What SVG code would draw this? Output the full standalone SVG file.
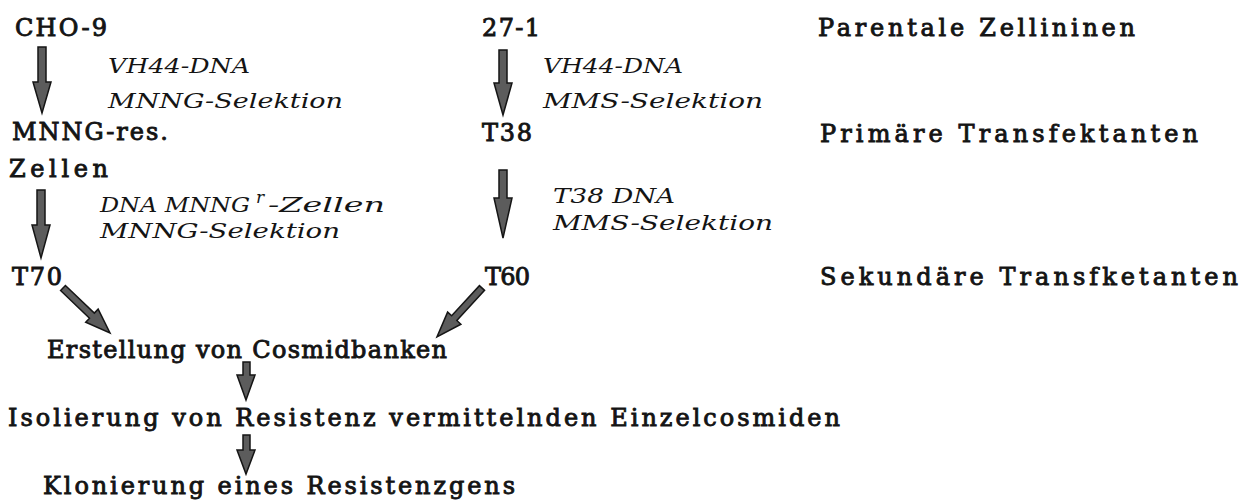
<svg xmlns="http://www.w3.org/2000/svg" width="1245" height="504" viewBox="0 0 1245 504">
<style>
.b{font-family:"DejaVu Serif","Liberation Serif",serif;font-size:24px;fill:#141414;stroke:#141414;stroke-width:0.9}
.i{font-family:"DejaVu Serif","Liberation Serif",serif;font-style:italic;font-size:20px;fill:#141414}
.arr{fill:#5c5c5c;stroke:#151515;stroke-width:1.5;stroke-linejoin:miter}
</style>
<rect width="1245" height="504" fill="#fff"/>
<g id="cho9"><text class="b" x="15" y="36" textLength="92" lengthAdjust="spacing">CHO-9</text></g>
<g id="n27-1"><text class="b" x="482" y="36" textLength="58" lengthAdjust="spacing">27-1</text></g>
<g id="parentale"><text class="b" x="818" y="36" textLength="317" lengthAdjust="spacing">Parentale Zellininen</text></g>
<g id="mnngres"><text class="b" x="12" y="140" textLength="156" lengthAdjust="spacing">MNNG-res.</text><text class="b" x="9" y="177" textLength="99" lengthAdjust="spacing">Zellen</text></g>
<g id="t38"><text class="b" x="482" y="141" textLength="50" lengthAdjust="spacing">T38</text></g>
<g id="primaere"><text class="b" x="820" y="142" textLength="378" lengthAdjust="spacing">Primäre Transfektanten</text></g>
<g id="t70"><text class="b" x="12" y="285" textLength="50" lengthAdjust="spacing">T70</text></g>
<g id="t60"><text class="b" x="485" y="285" textLength="45" lengthAdjust="spacing">T60</text></g>
<g id="sekundaere"><text class="b" x="820" y="285" textLength="418" lengthAdjust="spacing">Sekundäre Transfketanten</text></g>
<g id="erstellung"><text class="b" x="47" y="358" textLength="400" lengthAdjust="spacing">Erstellung von Cosmidbanken</text></g>
<g id="isolierung"><text class="b" x="8" y="426" textLength="832" lengthAdjust="spacing">Isolierung von Resistenz vermittelnden Einzelcosmiden</text></g>
<g id="klonierung"><text class="b" x="43" y="494" textLength="472" lengthAdjust="spacing">Klonierung eines Resistenzgens</text></g>
<g id="labels">
<text class="i" x="108" y="73" textLength="142" lengthAdjust="spacingAndGlyphs">VH44-DNA</text>
<text class="i" x="108" y="108" textLength="235" lengthAdjust="spacingAndGlyphs">MNNG-Selektion</text>
<text class="i" x="543" y="73" textLength="140" lengthAdjust="spacingAndGlyphs">VH44-DNA</text>
<text class="i" x="543" y="108" textLength="220" lengthAdjust="spacingAndGlyphs">MMS-Selektion</text>
<text class="i" x="100" y="212"><tspan textLength="150" lengthAdjust="spacingAndGlyphs">DNA MNNG</tspan><tspan x="256" dy="-9" font-size="17">r</tspan><tspan x="268" dy="9" textLength="117" lengthAdjust="spacingAndGlyphs">-Zellen</tspan></text>
<text class="i" x="100" y="238" textLength="240" lengthAdjust="spacingAndGlyphs">MNNG-Selektion</text>
<text class="i" x="553" y="203" textLength="122" lengthAdjust="spacingAndGlyphs">T38 DNA</text>
<text class="i" x="553" y="230" textLength="220" lengthAdjust="spacingAndGlyphs">MMS-Selektion</text>
</g>
<g id="connectors">
<path class="arr" d="M38 47 L46 47 L46 82 L51 82 L42 113 L33 82 L38 82 Z"/>
<path class="arr" d="M37 190 L45 190 L45 225 L50 225 L41 258 L32 225 L37 225 Z"/>
<path class="arr" d="M499 50 L507 50 L507 83 L512 83 L503 115 L494 83 L499 83 Z"/>
<path class="arr" d="M499 170 L507 170 L507 198 L512 198 L503 238 L494 198 L499 198 Z"/>
<path class="arr" d="M243 362 L250 362 L250 375 L255 375 L246 400 L237 375 L243 375 Z"/>
<path class="arr" d="M243 435 L250 435 L250 450 L255 450 L246 474 L237 450 L243 450 Z"/>
<path class="arr" transform="translate(63 288) rotate(-46.3)" d="M-3.5 0 L3.5 0 L3.5 40 L9 40 L0 65 L-9 40 L-3.5 40 Z"/>
<path class="arr" transform="translate(482 288) rotate(42.6)" d="M-3.5 0 L3.5 0 L3.5 41 L9 41 L0 66.5 L-9 41 L-3.5 41 Z"/>
</g>
</svg>
